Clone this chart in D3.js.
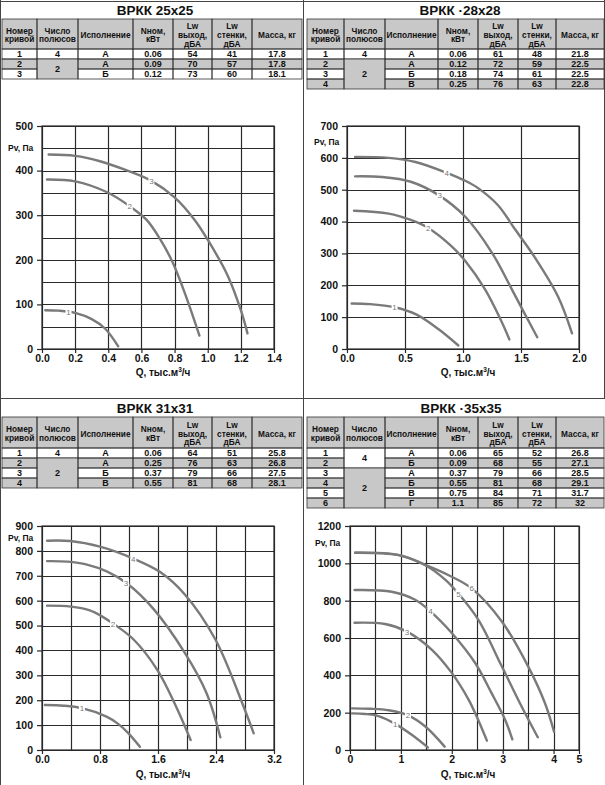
<!DOCTYPE html>
<html><head><meta charset="utf-8">
<script src="https://cdn.jsdelivr.net/npm/d3@7"></script>
<style>
html,body{margin:0;padding:0;background:#fff;}
svg{display:block;font-family:"Liberation Sans",Arial,sans-serif;}
</style></head>
<body><svg id="c" width="605" height="785"></svg>
<script>
// ---------- DATA ----------
const titles = ["ВРКК  25x25", "ВРКК ·28x28", "ВРКК  31x31", "ВРКК ·35x35"];
const headerLabels = [["Номер","кривой"],["Число","полюсов"],["Исполнение"],["Nном,","кВт"],["Lw","выход,","дБА"],["Lw","стенки,","дБА"],["Масса, кг"]];

// rows: curve no, execution, Nnom, Lw out, Lw wall, mass
const rows25 = [["1","А","0.06","54","41","17.8"],["2","А","0.09","70","57","17.8"],["3","Б","0.12","73","60","18.1"]];
const poles25 = [["4",1],["2",2]];
const rows28 = [["1","А","0.06","61","48","21.8"],["2","А","0.12","72","59","22.5"],["3","Б","0.18","74","61","22.5"],["4","В","0.25","76","63","22.8"]];
const poles28 = [["4",1],["2",3]];
const rows31 = [["1","А","0.06","64","51","25.8"],["2","А","0.25","76","63","26.8"],["3","Б","0.37","79","66","27.5"],["4","В","0.55","81","68","28.1"]];
const poles31 = [["4",1],["2",3]];
const rows35 = [["1","А","0.06","65","52","26.8"],["2","Б","0.09","68","55","27.1"],["3","А","0.37","79","66","28.5"],["4","Б","0.55","81","68","29.1"],["5","В","0.75","84","71","31.7"],["6","Г","1.1","85","72","32"]];
const poles35 = [["4",2],["2",4]];

// axes
const xTicks25 = [0,0.2,0.4,0.6,0.8,1.0,1.2,1.4], xLab25 = ["0.0","0.2","0.4","0.6","0.8","1.0","1.2","1.4"];
const yTicks25 = [0,100,200,300,400,500];
const xTicks28 = [0,0.5,1.0,1.5,2.0], xLab28 = ["0.0","0.5","1.0","1.5","2.0"];
const yTicks28 = [0,100,200,300,400,500,600,700];
const xTicks31 = [0,0.8,1.6,2.4,3.2], xLab31 = ["0.0","0.8","1.6","2.4","3.2"];
const yTicks31 = [0,100,200,300,400,500,600,700,800,900];
const xTicks35 = [0,1,2,3,4,4.5], xLab35 = ["0","1","2","3","4","5"];
const yTicks35 = [0,200,400,600,800,1000,1200];

// curves [Q, Pv]
const c25_1 = [[0.02,87],[0.1,86],[0.2,81],[0.3,67],[0.38,46],[0.46,6]];
const c25_2 = [[0.03,380],[0.2,376],[0.39,352],[0.53,320],[0.63,290],[0.71,248],[0.79,193],[0.87,117],[0.95,30]];
const c25_3 = [[0.04,436],[0.2,433],[0.35,421],[0.5,402],[0.66,377],[0.8,340],[0.92,290],[1.0,245],[1.12,165],[1.2,87],[1.24,35]];
const lab25 = [[0.16,84],[0.53,320],[0.66,377]];

const c28_1 = [[0.04,143],[0.2,141],[0.41,131],[0.6,108],[0.79,62],[0.96,11]];
const c28_2 = [[0.06,434],[0.36,425],[0.55,405],[0.7,380],[0.9,323],[1.02,276],[1.19,187],[1.33,88],[1.4,30]];
const c28_3 = [[0.07,542],[0.3,540],[0.55,525],[0.79,483],[1.02,415],[1.25,302],[1.42,188],[1.53,112],[1.64,37]];
const c28_4 = [[0.07,603],[0.36,600],[0.59,587],[0.86,553],[1.02,528],[1.13,505],[1.3,452],[1.45,375],[1.62,287],[1.82,164],[1.94,49]];
const lab28 = [[0.41,131],[0.7,380],[0.8,482],[0.86,553]];

const c31_1 = [[0.04,181],[0.3,178],[0.55,168],[0.89,134],[1.05,105],[1.19,68],[1.35,13]];
const c31_2 = [[0.07,580],[0.4,576],[0.65,562],[0.82,538],[0.98,508],[1.26,445],[1.59,322],[1.86,168],[2.05,40]];
const c31_3 = [[0.07,759],[0.35,757],[0.62,745],[0.9,717],[1.17,670],[1.54,566],[1.97,390],[2.27,228],[2.46,51]];
const c31_4 = [[0.07,841],[0.39,840],[0.8,817],[1.26,769],[1.63,715],[1.97,625],[2.39,445],[2.78,175],[2.92,67]];
const lab31 = [[0.55,168],[0.98,508],[1.16,672],[1.26,769]];

const c35_1 = [[0.04,196],[0.3,193],[0.56,182],[0.89,140],[1.22,80],[1.53,14]];
const c35_2 = [[0.04,223],[0.4,221],[0.76,213],[1.12,188],[1.48,126],[1.86,18]];
const c35_3 = [[0.09,682],[0.69,675],[1.12,634],[1.61,537],[2.0,413],[2.33,270],[2.49,179],[2.69,50]];
const c35_4 = [[0.09,857],[0.82,848],[1.28,805],[1.58,743],[2.0,627],[2.46,466],[2.78,306],[3.05,161],[3.19,57]];
const c35_5 = [[0.1,1057],[0.95,1044],[1.48,990],[1.87,913],[2.13,838],[2.52,698],[2.98,450],[3.37,234],[3.69,68]];
const c35_6 = [[0.1,1057],[0.95,1045],[1.48,992],[1.95,935],[2.39,866],[2.98,690],[3.5,448],[3.83,252],[4.01,98]];
const lab35 = [[0.89,140],[1.14,186],[1.12,634],[1.58,743],[2.13,838],[2.39,866]];

// ---------- LAYOUT ----------
const svg = d3.select("#c");
const colsL = [2,37,78,133,173,212,252,302];
const colsR = [307,344,385,438,478,518,556,604];
const GRAY = "#c8c8c8";

const panels = [
 {title:titles[0], tx:155, ty:14.5, cols:colsL, top:19, hh:30, rows:rows25, poles:poles25,
  p:{x0:42,x1:274,y0:126,y1:349}, xMax:1.4, yMax:500, xT:xTicks25, xL:xLab25, yT:yTicks25, gx:0.2, gy:50,
  curves:[c25_1,c25_2,c25_3], labs:lab25, pv:[8,148], ql:[163,376]},
 {title:titles[1], tx:460, ty:14.5, cols:colsR, top:19, hh:30, rows:rows28, poles:poles28,
  p:{x0:347,x1:579,y0:126,y1:349}, xMax:2.0, yMax:700, xT:xTicks28, xL:xLab28, yT:yTicks28, gx:0.5, gy:100,
  curves:[c28_1,c28_2,c28_3,c28_4], labs:lab28, pv:[314,142], ql:[468,376]},
 {title:titles[2], tx:155, ty:412.5, cols:colsL, top:417, hh:31, rows:rows31, poles:poles31,
  p:{x0:42,x1:274,y0:526,y1:750}, xMax:3.2, yMax:900, xT:xTicks31, xL:xLab31, yT:yTicks31, gx:0.4, gy:100,
  curves:[c31_1,c31_2,c31_3,c31_4], labs:lab31, pv:[8,538], ql:[163,778]},
 {title:titles[3], tx:461, ty:412.5, cols:colsR, top:417, hh:31, rows:rows35, poles:poles35,
  p:{x0:350,x1:579,y0:526,y1:750}, xMax:4.5, yMax:1200, xT:xTicks35, xL:xLab35, yT:yTicks35, gx:0.5, gy:200,
  curves:[c35_1,c35_2,c35_3,c35_4,c35_5,c35_6], labs:lab35, pv:[315,543], ql:[468,778]}
];

// frame lines
const frame = svg.append("g").attr("stroke","#444").attr("stroke-width",1);
frame.append("line").attr("x1",303.5).attr("x2",303.5).attr("y1",0).attr("y2",785);
frame.append("line").attr("x1",0).attr("x2",605).attr("y1",398.5).attr("y2",398.5);
frame.append("line").attr("x1",0).attr("x2",605).attr("y1",1.5).attr("y2",1.5);
frame.append("line").attr("x1",0.5).attr("x2",0.5).attr("y1",0).attr("y2",785);
frame.append("line").attr("x1",604.5).attr("x2",604.5).attr("y1",0).attr("y2",398);

panels.forEach(P => {
  const g = svg.append("g");
  // title
  g.append("text").attr("x",P.tx).attr("y",P.ty).attr("text-anchor","middle")
    .attr("font-size",13.5).attr("font-weight","bold").attr("fill","#111").text(P.title);

  // table
  const c = P.cols, rowH = 10, top = P.top, hh = P.hh;
  const tb = g.append("g");
  tb.append("rect").attr("x",c[0]).attr("y",top).attr("width",c[7]-c[0]).attr("height",hh).attr("fill",GRAY);
  headerLabels.forEach((lines,i)=>{
    const cx = (c[i]+c[i+1])/2, cy = top+hh/2+1;
    const lh = 8.6, n = lines.length;
    lines.forEach((t,k)=>{
      tb.append("text").attr("x",cx).attr("y",cy+(k-(n-1)/2)*lh+3)
        .attr("text-anchor","middle").attr("font-size",8.3).attr("font-weight","bold").attr("fill","#111").text(t);
    });
  });
  const r0 = top+hh;
  P.rows.forEach((r,i)=>{
    tb.append("rect").attr("x",c[0]).attr("y",r0+i*rowH).attr("width",c[7]-c[0]).attr("height",rowH)
      .attr("fill", i%2 ? GRAY : "#fff");
  });
  let acc = 0;
  P.poles.forEach((pl,k)=>{
    const y = r0+acc*rowH, h = pl[1]*rowH;
    tb.append("rect").attr("x",c[1]).attr("y",y).attr("width",c[2]-c[1]).attr("height",h)
      .attr("fill", k===0 ? "#fff" : GRAY).attr("stroke","#333").attr("stroke-width",0.8);
    tb.append("text").attr("x",(c[1]+c[2])/2).attr("y",y+h/2+3.3).attr("text-anchor","middle")
      .attr("font-size",9).attr("font-weight","bold").attr("fill","#111").text(pl[0]);
    acc += pl[1];
  });
  const colIdx = [0,2,3,4,5,6];
  P.rows.forEach((r,i)=>{
    const y = r0+i*rowH;
    r.forEach((v,j)=>{
      const ci = colIdx[j];
      tb.append("rect").attr("x",c[ci]).attr("y",y).attr("width",c[ci+1]-c[ci]).attr("height",rowH)
        .attr("fill","none").attr("stroke","#333").attr("stroke-width",0.8);
      tb.append("text").attr("x",(c[ci]+c[ci+1])/2).attr("y",y+8.3).attr("text-anchor","middle")
        .attr("font-size",9).attr("font-weight","bold").attr("fill","#111").text(v);
    });
  });
  for (let i=0;i<7;i++){
    tb.append("rect").attr("x",c[i]).attr("y",top).attr("width",c[i+1]-c[i]).attr("height",hh)
      .attr("fill","none").attr("stroke","#333").attr("stroke-width",0.8);
  }

  // chart
  const p = P.p;
  const x = d3.scaleLinear().domain([0,P.xMax]).range([p.x0,p.x1]);
  const y = d3.scaleLinear().domain([0,P.yMax]).range([p.y1,p.y0]);
  const ch = g.append("g");
  const gxv = d3.range(P.gx, P.xMax+1e-9, P.gx);
  const gyv = d3.range(P.gy, P.yMax+1e-9, P.gy);
  ch.selectAll(".gx").data(gxv).join("line").attr("x1",d=>Math.round(x(d))+0.5).attr("x2",d=>Math.round(x(d))+0.5)
    .attr("y1",p.y0).attr("y2",p.y1).attr("stroke","#2a2a2a").attr("stroke-width",1.2);
  ch.selectAll(".gy").data(gyv).join("line").attr("y1",d=>Math.round(y(d))+0.5).attr("y2",d=>Math.round(y(d))+0.5)
    .attr("x1",p.x0).attr("x2",p.x1).attr("stroke","#2a2a2a").attr("stroke-width",1.2);
  const ax = ch.append("g").attr("transform",`translate(0,${p.y1})`)
    .call(d3.axisBottom(x).tickValues(P.xT).tickFormat((d,i)=>P.xL[i]).tickSize(4).tickSizeOuter(0));
  const ay = ch.append("g").attr("transform",`translate(${p.x0},0)`)
    .call(d3.axisLeft(y).tickValues(P.yT).tickFormat(d3.format("d")).tickSize(5).tickSizeOuter(0));
  [ax,ay].forEach(a=>{
    a.select(".domain").attr("stroke","#2a2a2a").attr("stroke-width",1.2);
    a.selectAll(".tick line").attr("stroke","#2a2a2a").attr("stroke-width",1.2);
    a.selectAll(".tick text").attr("font-size",10.5).attr("font-weight","bold").attr("fill","#111")
      .attr("font-family","Liberation Sans, Arial, sans-serif");
  });
  ax.selectAll(".tick text").attr("dy","0.6em");
  ay.selectAll(".tick text").attr("dx","-1");
  ch.append("rect").attr("x",p.x0).attr("y",p.y0).attr("width",p.x1-p.x0).attr("height",p.y1-p.y0)
    .attr("fill","none").attr("stroke","#2a2a2a").attr("stroke-width",1.2);

  // curves
  const line = d3.line().x(d=>x(d[0])).y(d=>y(d[1])).curve(d3.curveCatmullRom.alpha(0.5));
  ch.selectAll(".crv").data(P.curves).join("path").attr("d",line)
    .attr("fill","none").attr("stroke","#7a7a7a").attr("stroke-width",2.4).attr("stroke-linecap","round");
  P.labs.forEach((l,i)=>{
    const lx = x(l[0]), ly = y(l[1]);
    ch.append("rect").attr("x",lx-3).attr("y",ly-4).attr("width",6).attr("height",8).attr("fill","#fff");
    ch.append("text").attr("x",lx).attr("y",ly+3).attr("text-anchor","middle")
      .attr("font-size",8).attr("fill","#777").text(String(i+1));
  });

  // axis titles
  g.append("text").attr("x",P.pv[0]).attr("y",P.pv[1]+3).attr("font-size",8.5).attr("font-weight","bold")
    .attr("fill","#111").text("Pv, Па");
  const qt = g.append("text").attr("x",P.ql[0]).attr("y",P.ql[1]).attr("text-anchor","middle")
    .attr("font-size",10).attr("font-weight","bold").attr("fill","#111");
  qt.append("tspan").text("Q, тыс.м");
  qt.append("tspan").attr("font-size",6.5).attr("dy",-4).text("3");
  qt.append("tspan").attr("dy",4).text("/ч");
});
</script>
</body></html>
